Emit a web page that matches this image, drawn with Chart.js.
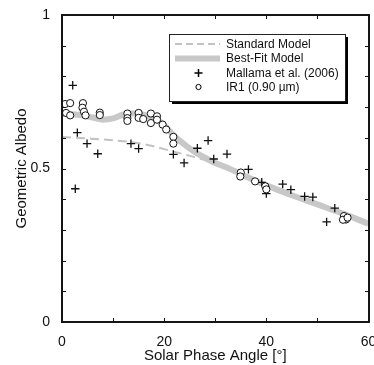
<!DOCTYPE html>
<html>
<head>
<meta charset="utf-8">
<script src="https://cdn.jsdelivr.net/npm/chart.js@4/dist/chart.umd.min.js"></script>
<style>
  html, body { margin: 0; padding: 0; background: #fff; }
  #wrap { width: 374px; height: 365px; }
</style>
</head>
<body>
<div id="wrap"><canvas id="c" width="374" height="365"></canvas></div>
<script>
// ---- Data ----
const standardAngle = [0, 5, 10, 14, 17, 20, 23, 26, 29, 32, 35, 38, 40, 45, 50, 55, 60];
const standardAlbedo = [0.603, 0.598, 0.592, 0.585, 0.576, 0.563, 0.550, 0.537, 0.521, 0.502, 0.482, 0.463, 0.450, 0.415, 0.383, 0.352, 0.321];

const bestFitAngle = [0, 2, 4, 6, 8, 10, 12, 14, 16, 18, 20, 22, 24, 26, 28, 30, 32, 34, 36, 40, 45, 50, 55, 60];
const bestFitAlbedo = [0.679, 0.677, 0.673, 0.666, 0.659, 0.663, 0.676, 0.679, 0.675, 0.664, 0.641, 0.605, 0.578, 0.554, 0.535, 0.518, 0.505, 0.490, 0.474, 0.445, 0.413, 0.383, 0.353, 0.320];

const mallamaAngle = [2.1, 2.6, 3.0, 4.9, 7.0, 13.5, 15.0, 21.8, 23.9, 26.5, 28.6, 29.7, 32.3, 36.5, 39.1, 40.0, 43.2, 44.8, 47.5, 49.1, 51.8, 53.4, 55.6];
const mallamaAlbedo = [0.771, 0.434, 0.617, 0.581, 0.548, 0.581, 0.565, 0.546, 0.518, 0.566, 0.591, 0.531, 0.547, 0.497, 0.455, 0.418, 0.449, 0.431, 0.409, 0.407, 0.326, 0.371, 0.335];

const ir1Angle = [0.6, 1.6, 0.8, 1.6, 4.1, 4.0, 4.3, 4.6, 7.4, 7.4, 12.8, 12.8, 12.8, 15.0, 15.0, 15.9, 17.4, 17.4, 18.6, 18.6, 19.7, 20.4, 21.8, 21.8, 35.0, 34.9, 37.8, 39.8, 40.0, 55.2, 55.6, 55.0, 55.9];
const ir1Albedo = [0.710, 0.713, 0.681, 0.673, 0.713, 0.698, 0.685, 0.673, 0.682, 0.674, 0.679, 0.664, 0.655, 0.681, 0.665, 0.661, 0.679, 0.648, 0.670, 0.659, 0.643, 0.627, 0.603, 0.581, 0.487, 0.474, 0.458, 0.442, 0.432, 0.345, 0.334, 0.333, 0.340];

const xTickLabels = [0, 20, 40, 60];
const yTickLabels = [0, 0.5, 1];
const seriesNames = ['Standard Model', 'Best-Fit Model', 'Mallama et al. (2006)', 'IR1 (0.90 µm)'];
const xTitle = 'Solar Phase Angle [°]';
const yTitle = 'Geometric Albedo';

const pts = (xs, ys) => xs.map((x, i) => ({ x: x, y: ys[i] }));
const FONT = '"Liberation Sans", Arial, Helvetica, sans-serif';

Chart.defaults.color = '#111';
Chart.defaults.font.family = FONT;

function drawFrame(chart) {
  const ctx = chart.ctx, a = chart.chartArea, xs = chart.scales.x, ys = chart.scales.y;
  const L = Math.round(a.left), R = Math.round(a.right), T = Math.round(a.top), B = Math.round(a.bottom);
  ctx.save();
  ctx.globalAlpha = 1;
  ctx.fillStyle = '#151515';
  const tl = 4;
  xs.ticks.forEach(t => {
    const px = Math.round(xs.getPixelForValue(t.value));
    ctx.fillRect(px, B - tl, 1, tl);
    ctx.fillRect(px, T, 1, tl);
  });
  ys.ticks.forEach(t => {
    const py = Math.round(ys.getPixelForValue(t.value));
    ctx.fillRect(L, py, tl, 1);
    ctx.fillRect(R - tl, py, tl, 1);
  });
  // frame lines
  ctx.fillRect(L - 1, T - 1, 2, B - T + 2);      // left
  ctx.fillRect(L - 1, B - 1, R - L + 2, 2);      // bottom
  ctx.fillRect(R - 1, T - 1, 2, B - T + 2);      // right
  ctx.fillRect(L - 1, T - 1, R - L + 2, 2);      // top
  ctx.restore();
}

function drawLegend(chart) {
  const ctx = chart.ctx, a = chart.chartArea;
  const bx = a.left + 107, by = a.top + 19, bw = 176, bh = 67;
  ctx.save();
  ctx.fillStyle = '#000';
  ctx.fillRect(bx + 3, by + 3, bw, bh);
  ctx.fillStyle = '#fff';
  ctx.fillRect(bx, by, bw, bh);
  ctx.strokeStyle = '#222';
  ctx.lineWidth = 1;
  ctx.strokeRect(bx + 0.5, by + 0.5, bw, bh);
  const rows = [by + 10, by + 24.5, by + 39, by + 53];
  const sx0 = bx + 6, sx1 = bx + 51, sxc = bx + 29.5, tx = bx + 57;
  const ds = chart.data.datasets;
  ctx.font = '12px ' + FONT;
  ctx.textBaseline = 'middle';
  ctx.textAlign = 'left';
  ds.forEach((d, i) => {
    const y = rows[i];
    if (d.showLine) {
      ctx.beginPath();
      ctx.strokeStyle = d.borderColor;
      ctx.lineWidth = d.borderWidth;
      ctx.setLineDash(d.borderDash ? [7, 4] : []);
      ctx.moveTo(sx0, y); ctx.lineTo(sx1, y);
      ctx.stroke();
      ctx.setLineDash([]);
    } else if (d.pointStyle === 'cross') {
      ctx.beginPath();
      ctx.strokeStyle = '#000';
      ctx.lineWidth = 1.5;
      ctx.moveTo(sxc - 4, y); ctx.lineTo(sxc + 4, y);
      ctx.moveTo(sxc, y - 4); ctx.lineTo(sxc, y + 4);
      ctx.stroke();
    } else {
      ctx.beginPath();
      ctx.strokeStyle = '#000';
      ctx.lineWidth = 1;
      ctx.fillStyle = '#fff';
      ctx.arc(sxc, y, 2.6, 0, Math.PI * 2);
      ctx.fill(); ctx.stroke();
    }
    ctx.fillStyle = '#111';
    ctx.fillText(d.label, tx, y + 0.5);
  });
  ctx.restore();
}

const decorPlugin = {
  id: 'decor',
  afterDraw(chart) {
    drawFrame(chart);
    drawLegend(chart);
  }
};

const approxIn = (v, arr) => arr.some(l => Math.abs(l - v) < 1e-6);

new Chart(document.getElementById('c'), {
  type: 'scatter',
  data: {
    datasets: [
      {
        label: seriesNames[0],
        data: pts(standardAngle, standardAlbedo),
        showLine: true, pointRadius: 0,
        borderColor: '#c2c2c2', borderWidth: 2, borderDash: [9, 5],
        cubicInterpolationMode: 'monotone', order: 10
      },
      {
        label: seriesNames[1],
        data: pts(bestFitAngle, bestFitAlbedo),
        showLine: true, pointRadius: 0,
        borderColor: '#c8c8c8', borderWidth: 6,
        cubicInterpolationMode: 'monotone', order: 9
      },
      {
        label: seriesNames[2],
        data: pts(mallamaAngle, mallamaAlbedo),
        showLine: false, pointStyle: 'cross', pointRadius: 4.2,
        borderColor: '#111', borderWidth: 1.3, order: 2, clip: false
      },
      {
        label: seriesNames[3],
        data: pts(ir1Angle, ir1Albedo),
        showLine: false, pointStyle: 'circle', pointRadius: 3.6,
        borderColor: '#111', backgroundColor: '#fff', borderWidth: 1, order: 1, clip: false
      }
    ]
  },
  options: {
    responsive: false,
    animation: false,
    layout: { padding: { top: 15, right: 5, left: 0, bottom: 0 } },
    plugins: { legend: { display: false }, tooltip: { enabled: false } },
    scales: {
      x: {
        type: 'linear', min: 0, max: 60,
        grid: { display: false }, border: { display: false },
        ticks: {
          stepSize: 10, padding: 4, maxRotation: 0, autoSkip: false,
          font: { size: 14 }, color: '#111',
          callback: v => approxIn(v, xTickLabels) ? String(v) : ''
        },
        title: { display: true, text: xTitle, font: { size: 15 }, color: '#111', padding: { top: 0, bottom: 0 } },
        afterFit: s => { s.height = 43; s.paddingLeft = 0; s.paddingRight = 0; }
      },
      y: {
        type: 'linear', min: 0, max: 1,
        grid: { display: false }, border: { display: false },
        ticks: {
          stepSize: 0.1, padding: 4, autoSkip: false,
          font: { size: 14 }, color: '#111',
          callback: v => approxIn(v, yTickLabels) ? String(Math.round(v * 10) / 10) : ''
        },
        title: { display: true, text: yTitle, font: { size: 15 }, color: '#111', padding: { top: 13, bottom: 0 } },
        afterFit: s => { s.width = 62; s.paddingTop = 0; s.paddingBottom = 0; }
      }
    }
  },
  plugins: [decorPlugin]
});
</script>
</body>
</html>
